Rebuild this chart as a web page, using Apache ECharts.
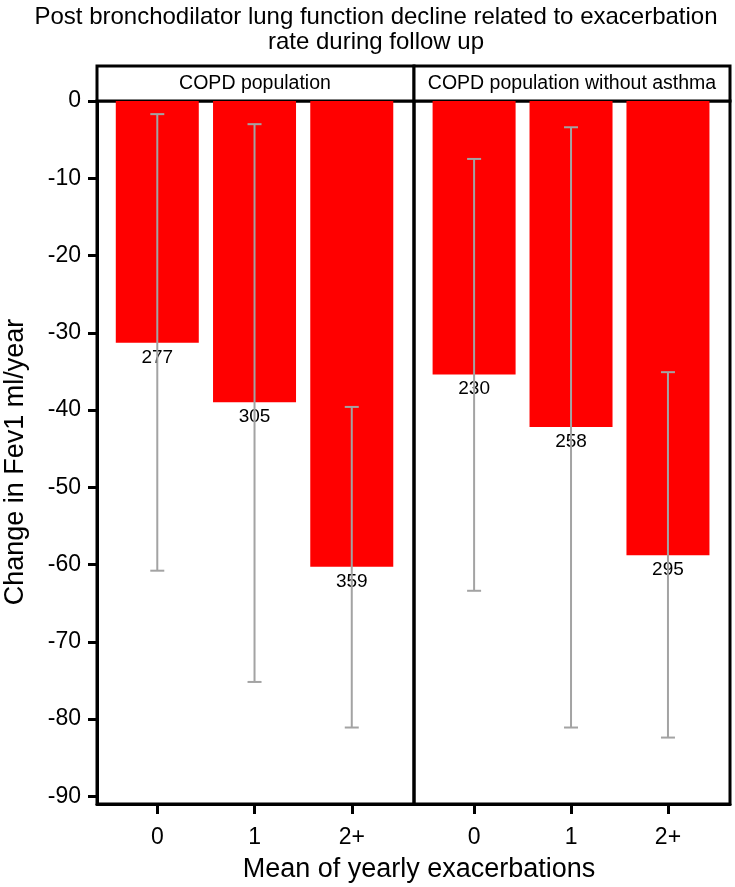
<!DOCTYPE html>
<html>
<head>
<meta charset="utf-8">
<script src="https://cdn.jsdelivr.net/npm/echarts@6/dist/echarts.min.js"></script>
<style>
  html, body { margin: 0; padding: 0; background: #fff; }
  #chart { width: 735px; height: 887px; }
</style>
</head>
<body>
<div id="chart"></div>
<script>
// exacerbation groups and facet panels
const categories = ['0', '1', '2+'];
const panels = ['COPD population', 'COPD population without asthma'];

// mean change in FEV1 (ml/year), error bar ends, and n per bar
const meanAll = [-31.3, -39.0, -60.3];
const lowAll = [-60.8, -75.2, -81.1];
const highAll = [-1.7, -3.0, -39.6];
const nAll = [277, 305, 359];

const meanNoAsthma = [-35.4, -42.2, -58.8];
const lowNoAsthma = [-63.4, -81.1, -82.4];
const highNoAsthma = [-7.5, -3.4, -35.1];
const nNoAsthma = [230, 258, 295];

const yTicks = [0, -10, -20, -30, -40, -50, -60, -70, -80, -90];

const FONT = "'Liberation Sans', Arial, sans-serif";
const chart = echarts.init(document.getElementById('chart'));

function barData(mean, n) {
  return mean.map((v, i) => ({ value: [i, v], n: n[i] }));
}
function errData(low, high) {
  return low.map((v, i) => [i, v, high[i]]);
}

function errorBar(params, api) {
  const x = api.value(0);
  const top = api.coord([x, api.value(2)]);
  const bot = api.coord([x, api.value(1)]);
  const half = 7;
  const style = { stroke: '#a3a3a3', lineWidth: 2 };
  return {
    type: 'group',
    children: [
      { type: 'line', shape: { x1: top[0], y1: top[1], x2: bot[0], y2: bot[1] }, style },
      { type: 'line', shape: { x1: top[0] - half, y1: top[1], x2: top[0] + half, y2: top[1] }, style },
      { type: 'line', shape: { x1: bot[0] - half, y1: bot[1], x2: bot[0] + half, y2: bot[1] }, style }
    ]
  };
}

function xAxisFor(gridIndex) {
  return {
    type: 'value', gridIndex: gridIndex, min: -0.62, max: 2.64,
    splitLine: { show: false },
    axisLine: { show: true, onZero: false, lineStyle: { color: '#000', width: 3 } },
    axisTick: { show: true, length: 10, customValues: [0, 1, 2], lineStyle: { color: '#000', width: 3 } },
    axisLabel: {
      customValues: [0, 1, 2], margin: 22,
      formatter: v => categories[Math.round(v)],
      color: '#000', fontSize: 23, fontFamily: FONT
    }
  };
}

function yAxisFor(gridIndex, show) {
  return {
    type: 'value', gridIndex: gridIndex, min: -91, max: 0, show: show,
    splitLine: { show: false },
    axisLine: { show: true, onZero: false, lineStyle: { color: '#000', width: 3 } },
    axisTick: { show: true, length: 9, customValues: yTicks, lineStyle: { color: '#000', width: 3 } },
    axisLabel: { customValues: yTicks, margin: 16, color: '#000', fontSize: 23, fontFamily: FONT }
  };
}

const barLabel = {
  show: true, position: 'outside', distance: 5,
  formatter: p => String(p.data.n),
  color: '#000', fontSize: 19, fontFamily: FONT
};

const option = {
  animation: false,
  backgroundColor: '#fff',
  grid: [
    { left: 97, top: 101, width: 317, height: 703, show: true, borderColor: '#000', borderWidth: 3 },
    { left: 414, top: 101, width: 316, height: 703, show: true, borderColor: '#000', borderWidth: 3 }
  ],
  xAxis: [xAxisFor(0), xAxisFor(1)],
  yAxis: [yAxisFor(0, true), yAxisFor(1, false)],
  series: [
    { type: 'bar', xAxisIndex: 0, yAxisIndex: 0, barWidth: 83, z: 2,
      itemStyle: { color: '#ff0000' }, label: barLabel, data: barData(meanAll, nAll) },
    { type: 'bar', xAxisIndex: 1, yAxisIndex: 1, barWidth: 83, z: 2,
      itemStyle: { color: '#ff0000' }, label: barLabel, data: barData(meanNoAsthma, nNoAsthma) },
    { type: 'custom', xAxisIndex: 0, yAxisIndex: 0, z: 3, renderItem: errorBar,
      encode: { x: 0, y: [1, 2] }, data: errData(lowAll, highAll) },
    { type: 'custom', xAxisIndex: 1, yAxisIndex: 1, z: 3, renderItem: errorBar,
      encode: { x: 0, y: [1, 2] }, data: errData(lowNoAsthma, highNoAsthma) }
  ],
  graphic: [
    { type: 'text', x: 376, y: 30, style: {
        text: 'Post bronchodilator lung function decline related to exacerbation\nrate during follow up',
        textAlign: 'center', textVerticalAlign: 'middle', lineHeight: 25,
        font: '24px ' + FONT, fill: '#000' } },
    { type: 'rect', shape: { x: 97, y: 66, width: 317, height: 35 },
      style: { fill: '#fff', stroke: '#000', lineWidth: 3 } },
    { type: 'rect', shape: { x: 414, y: 66, width: 316, height: 35 },
      style: { fill: '#fff', stroke: '#000', lineWidth: 3 } },
    { type: 'text', x: 255, y: 84, style: { text: panels[0], textAlign: 'center',
        textVerticalAlign: 'middle', font: '19.5px ' + FONT, fill: '#000' } },
    { type: 'text', x: 572, y: 84, style: { text: panels[1], textAlign: 'center',
        textVerticalAlign: 'middle', font: '19.5px ' + FONT, fill: '#000' } },
    { type: 'text', x: 419, y: 870, style: { text: 'Mean of yearly exacerbations', textAlign: 'center',
        textVerticalAlign: 'middle', font: '27px ' + FONT, fill: '#000' } },
    { type: 'text', x: 16, y: 462, rotation: Math.PI / 2, style: { text: 'Change in Fev1 ml/year',
        textAlign: 'center', textVerticalAlign: 'middle', font: '27px ' + FONT, fill: '#000' } }
  ]
};

chart.setOption(option);
</script>
</body>
</html>
